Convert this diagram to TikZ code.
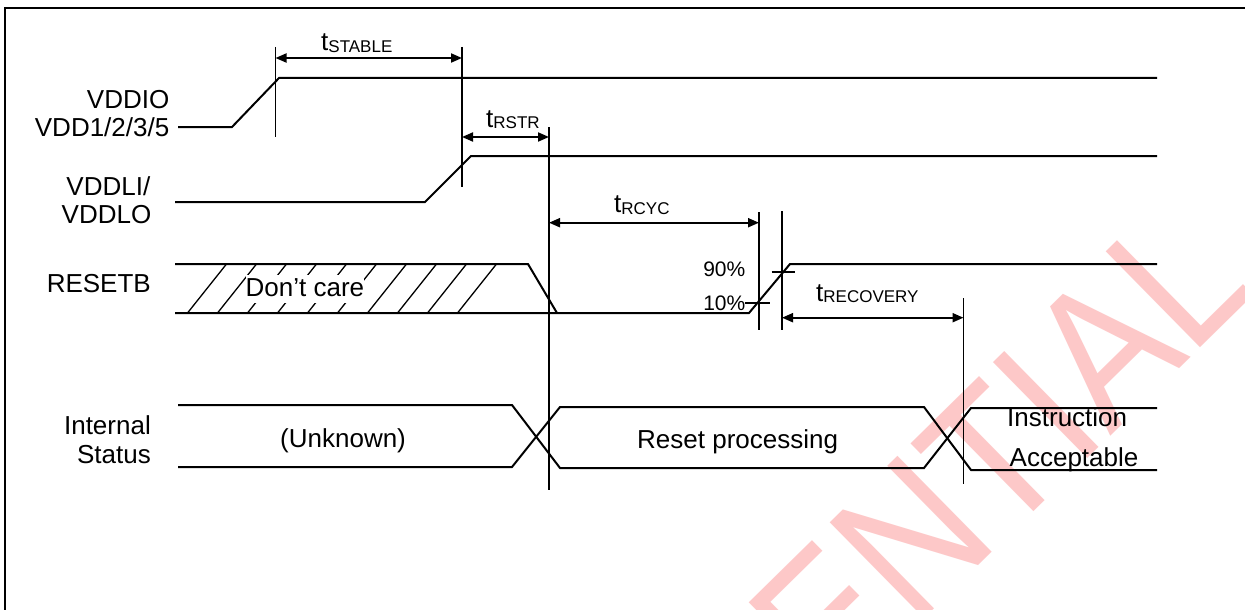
\documentclass[tikz,border=0pt]{standalone}
\usepackage{fontspec}
\setmainfont{Liberation Sans}
\usetikzlibrary{arrows.meta}
\definecolor{wmpink}{RGB}{253,200,200}
\newcommand{\tsubscr}[1]{\raisebox{-1.5pt}{\fontsize{17}{18}\selectfont #1}}
\begin{document}
\begin{tikzpicture}[x=1pt,y=-1pt,
  sig/.style={line width=2pt, line join=miter},
  vline/.style={line width=1.1pt},
  dim/.style={line width=2pt, {Triangle[length=11pt,width=9pt]}-{Triangle[length=11pt,width=9pt]}},
  hatchline/.style={line width=1.3pt},
  frameline/.style={line width=2.7pt},
  lbl/.style={inner sep=0pt, font=\fontsize{26}{30}\selectfont},
  pct/.style={inner sep=0pt, font=\fontsize{21}{24}\selectfont},
  wm/.style={inner sep=0pt, text=wmpink, font=\fontsize{170}{180}\selectfont}]
\useasboundingbox (0,0) rectangle (1245,610);
\fill[white] (0,0) rectangle (1245,610);
% watermark
\begin{scope}
  \clip (0,0) rectangle (1245,610);
  \node[wm, anchor=base west, rotate=44.5, yscale=1.15] (wmark) at (369,1165) {CONFIDENTIAL};
\end{scope}
% frame
\draw[frameline] (5,640) -- (5,8) -- (1270,8);

% signal labels
\node[lbl, anchor=base east] (vddio) at (169.5,108) {VDDIO};
\node[lbl, anchor=base east] (vdd1) at (169.5,136) {VDD1/2/3/5};
\node[lbl, anchor=base east] (vddli) at (150.5,195) {VDDLI/};
\node[lbl, anchor=base east] (vddlo) at (151.5,223.5) {VDDLO};
\node[lbl, anchor=base east] (resetb) at (151,292.5) {RESETB};
\node[lbl, anchor=base east] (internal) at (151,434) {Internal};
\node[lbl, anchor=base east] (status) at (151,463) {Status};

% waveforms
\draw[sig] (178,127) -- (232,127) -- (279,78) -- (1157,78);
\draw[sig] (175,202) -- (425,202) -- (471,156) -- (1157,156);
\foreach \k in {0,...,9} {
  \draw[hatchline] ({187.5+30*\k},313) -- ({226.5+30*\k},264);
}
\draw[sig] (175,264) -- (528,264) -- (557,313);
\draw[sig] (175,313) -- (749,313) -- (790,264) -- (1157,264);
\node[lbl, anchor=base west, fill=white, inner xsep=0pt, inner ysep=0pt,
      text height=21.7pt, text depth=6.3pt] (dontcare) at (245.5,296.7) {Don’t care};

\draw[sig] (178,405) -- (512,405) -- (560,468) -- (924,468) -- (971,408) -- (1157,408);
\draw[sig] (178,467) -- (512,467) -- (560,407) -- (924,407) -- (971,470) -- (1157,470);
\node[lbl, anchor=base west] (unknown) at (280,447.5) {(Unknown)};
\node[lbl, anchor=base west] (resetproc) at (637,448.3) {Reset processing};
\node[lbl, anchor=base west] (instr) at (1007,426) {Instruction};
\node[lbl, anchor=base west] (accept) at (1009.5,466) {Acceptable};

% timing markers
\coordinate (m1t) at (275.5,47);  \coordinate (m1b) at (275.5,137);
\coordinate (m2t) at (462,47);    \coordinate (m2b) at (462,187);
\coordinate (m3t) at (549,127);   \coordinate (m3b) at (549,490);
\coordinate (m4t) at (759,212);   \coordinate (m4b) at (759,330);
\coordinate (m5t) at (782,211);   \coordinate (m5b) at (782,330);
\coordinate (m6t) at (963.5,298); \coordinate (m6b) at (963.5,484);
\foreach \m in {1,...,6} { \draw[vline] (m\m t) -- (m\m b); }

% 10% / 90% ticks
\coordinate (t90a) at (771.5,272); \coordinate (t90b) at (795,272);
\coordinate (t10a) at (744.6,303); \coordinate (t10b) at (770,303);
\draw[vline] (t90a) -- (t90b);
\draw[vline] (t10a) -- (t10b);
\node[pct, anchor=base east] (p90) at (745.5,276) {90\%};
\node[pct, anchor=base east] (p10) at (745.5,310) {10\%};

% dimension arrows
\coordinate (aS1) at (275.5,58);  \coordinate (aS2) at (462,58);
\coordinate (aR1) at (462,137);   \coordinate (aR2) at (549,137);
\coordinate (aC1) at (549,222.7); \coordinate (aC2) at (759,222.7);
\coordinate (aV1) at (782,317.7); \coordinate (aV2) at (963.5,317.7);
\draw[dim] (aS1) -- (aS2);
\draw[dim] (aR1) -- (aR2);
\draw[dim] (aC1) -- (aC2);
\draw[dim] (aV1) -- (aV2);
\node[lbl, anchor=base west] (tstable) at (321,51) {t\tsubscr{STABLE}};
\node[lbl, anchor=base west] (trstr) at (486,127) {t\tsubscr{RSTR}};
\node[lbl, anchor=base west] (trcyc) at (614,212.5) {t\tsubscr{RCYC}};
\node[lbl, anchor=base west] (trecov) at (816,301) {t\tsubscr{RECOVERY}};
\end{tikzpicture}
\end{document}
